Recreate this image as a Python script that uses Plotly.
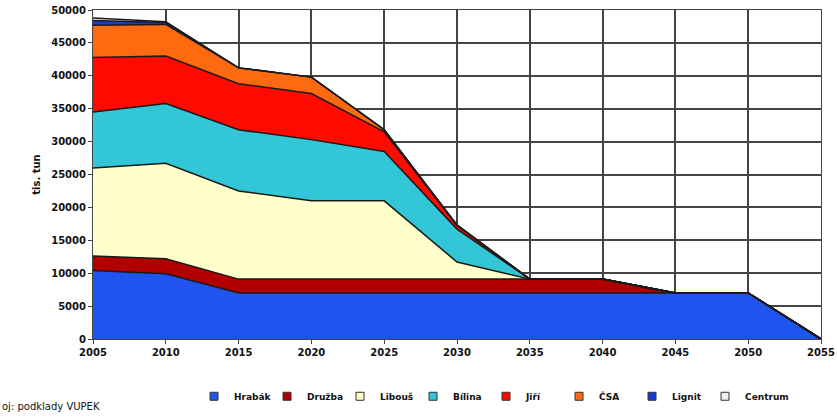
import plotly.graph_objects as go

years = [2005, 2010, 2015, 2020, 2025, 2030, 2035, 2040, 2045, 2050, 2055]
hrabak = [10400, 9900, 7000, 7000, 7000, 7000, 7000, 7000, 7000, 7000, 0]
druzba = [2200, 2300, 2100, 2100, 2100, 2100, 2100, 2100, 0, 0, 0]
libous = [13400, 14500, 13400, 11900, 11900, 2600, 0, 0, 0, 0, 0]
bilina = [8500, 9100, 9300, 9300, 7500, 5000, 0, 0, 0, 0, 0]
jiri = [8300, 7200, 7000, 7000, 3000, 600, 0, 0, 0, 0, 0]
csa = [4900, 4800, 2400, 2500, 300, 0, 0, 0, 0, 0, 0]
lignit = [700, 300, 0, 0, 0, 0, 0, 0, 0, 0, 0]
centrum = [400, 100, 0, 0, 0, 0, 0, 0, 0, 0, 0]

series = [
    ("Hrabák", hrabak, "#1f55ee"),
    ("Družba", druzba, "#b00000"),
    ("Libouš", libous, "#ffffcc"),
    ("Bílina", bilina, "#33c6d6"),
    ("Jiří", jiri, "#ff0a00"),
    ("ČSA", csa, "#ff6a10"),
    ("Lignit", lignit, "#1a3ad0"),
    ("Centrum", centrum, "#f0f0f0"),
]

fig = go.Figure()
for name, vals, col in series:
    fig.add_trace(go.Scatter(
        x=years, y=vals, name=name, stackgroup="one", mode="lines",
        line=dict(color="#1a1a1a", width=1.5), fillcolor=col, showlegend=False,
    ))
for name, vals, col in series:
    fig.add_trace(go.Scatter(
        x=[None], y=[None], name=name, mode="markers",
        marker=dict(symbol="square", size=8, color=col, line=dict(color="#333", width=1)),
    ))
# blank spacer entry so the last legend label is not clipped
fig.add_trace(go.Scatter(x=[None], y=[None], name=" ", mode="markers",
                         marker=dict(color="rgba(0,0,0,0)", size=1,
                                     line=dict(width=0, color="rgba(0,0,0,0)")),
                         hoverinfo="skip"))

tickfont = dict(size=10, family="DejaVu Sans", weight="bold", color="#111")
fig.update_layout(
    width=837, height=418,
    margin=dict(l=93, r=16, t=10, b=79, autoexpand=False),
    paper_bgcolor="white", plot_bgcolor="white",
    font=dict(family="DejaVu Sans", size=10, color="#111"),
    showlegend=True,
    legend=dict(orientation="h", x=0.59, xanchor="center", y=-0.13, yanchor="top",
                font=dict(size=9, weight="bold"), traceorder="normal",
                entrywidth=28, entrywidthmode="pixels", itemwidth=30, tracegroupgap=0),
    xaxis=dict(range=[2005, 2055], tickvals=years, showgrid=True, gridcolor="#444",
               gridwidth=1.5, showline=True, linecolor="#444", mirror=True,
               ticks="outside", ticklen=4, tickfont=tickfont, zeroline=False,
               ticklabeloverflow="allow"),
    yaxis=dict(range=[0, 50000], dtick=5000, tickformat="d", showgrid=True, gridcolor="#444",
               gridwidth=1.5, showline=True, linecolor="#444", mirror=True,
               ticks="outside", ticklen=4, tickfont=tickfont,
               title=dict(text="tis. tun", font=dict(size=10, weight="bold"), standoff=8),
               zeroline=False),
    annotations=[dict(text="oj: podklady VUPEK", x=0, xref="paper", xanchor="left",
                      xshift=-93, y=-0.2, yref="paper", yanchor="top", yshift=6,
                      showarrow=False, font=dict(size=10, family="DejaVu Sans"))],
)

fig.write_html("out.html")
